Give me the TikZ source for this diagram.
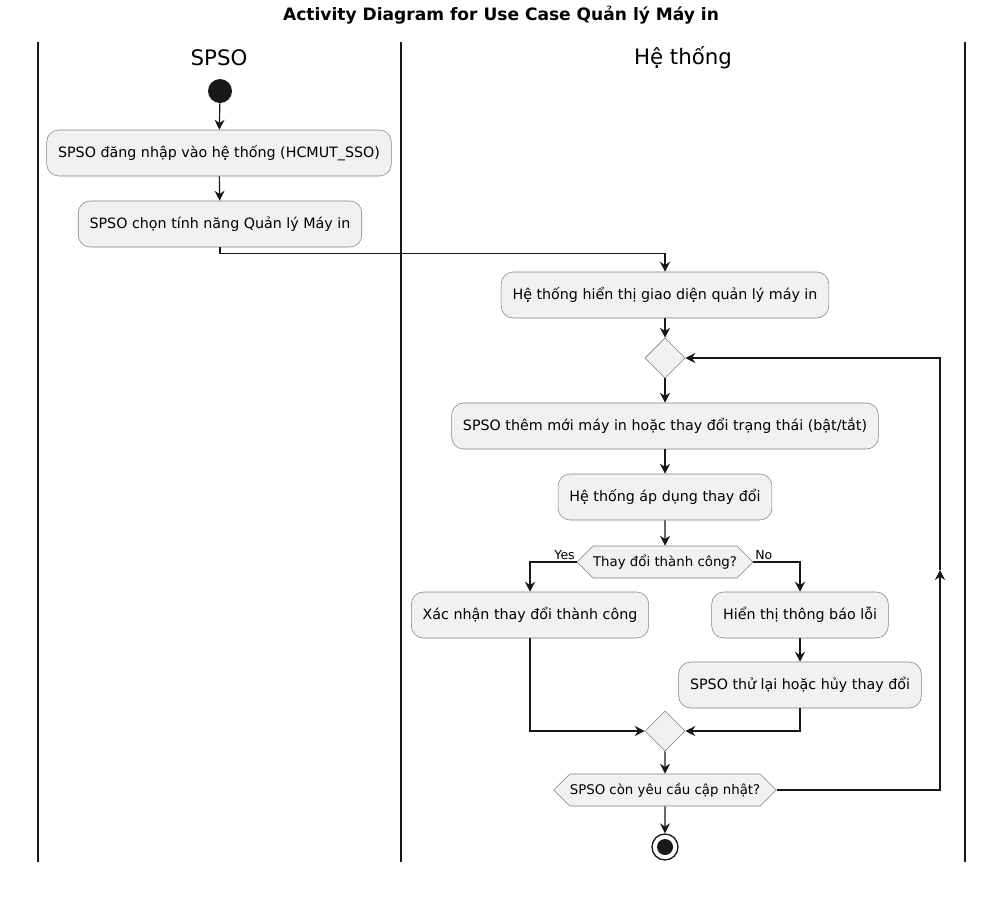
\documentclass[tikz,border=0pt]{standalone}
\usepackage{fontspec}
\setmainfont{DejaVu Sans}
\usetikzlibrary{arrows.meta,shapes.geometric,shapes.symbols}
\definecolor{actfill}{HTML}{F1F1F1}
\definecolor{actline}{HTML}{181818}
\tikzset{
  action/.style = {draw=black!50, fill=actfill, rounded corners=9pt,
    minimum height=34.5pt, inner xsep=8.5pt,
    font=\fontsize{10.7}{12}\selectfont},
  choice/.style = {signal, signal to=west and east, draw=black!50, fill=actfill,
    minimum height=24pt, inner xsep=0pt, font=\fontsize{10}{12}\selectfont},
  merge/.style = {diamond, draw=black!50, fill=actfill, minimum size=30pt, inner sep=0pt},
  flow/.style = {draw=actline, line width=0.9pt,
    -{Stealth[length=7.5pt,width=7.5pt,inset=2.5pt]}},
  guard/.style = {font=\fontsize{9.4}{11}\selectfont, inner sep=1pt},
  lane/.style = {draw=actline, line width=1.2pt},
  lanetitle/.style = {font=\fontsize{16}{19}\selectfont}
}

\begin{document}
\begin{tikzpicture}[x=0.75pt,y=-0.75pt]
  \useasboundingbox (0,0) rectangle (1000,900);
  \node[font=\fontsize{12.8}{15}\selectfont\bfseries] (title) at (501,15)
    {Activity Diagram for Use Case Quản lý Máy in};
  % swimlanes
  \foreach \X in {38,401,965} {
    \draw[lane] (\X,42) -- (\X,862);
  }
  \node[lanetitle] (laneA) at (219,58) {SPSO};
  \node[lanetitle] (laneB) at (683,58) {Hệ thống};

  \node[circle, fill=actline, minimum size=18pt, inner sep=0pt] (start) at (220,91) {};
  \node[action] (login) at (219,153) {SPSO đăng nhập vào hệ thống (HCMUT\_SSO)};
  \node[action] (choose) at (220,224) {SPSO chọn tính năng Quản lý Máy in};
  \node[action] (show) at (665,295) {Hệ thống hiển thị giao diện quản lý máy in};
  \node[merge] (merge1) at (665,358) {};
  \node[action] (add) at (665,426) {SPSO thêm mới máy in hoặc thay đổi trạng thái (bật/tắt)};
  \node[action] (apply) at (665,497) {Hệ thống áp dụng thay đổi};
  \node[choice] (check) at (665,562) {Thay đổi thành công?};
  \node[action] (confirm) at (530,615) {Xác nhận thay đổi thành công};
  \node[action] (error) at (800,615) {Hiển thị thông báo lỗi};
  \node[action] (retry) at (800,685) {SPSO thử lại hoặc hủy thay đổi};
  \node[merge] (merge2) at (665,731) {};
  \node[choice] (more) at (665,790) {SPSO còn yêu cầu cập nhật?};
  \node[circle, draw=actline, line width=1pt, fill=white, minimum size=19.5pt,
    inner sep=0pt] (stop) at (665,847) {};
  \fill[actline] (stop) circle (6pt);

  \draw[flow] (start) -- (login);
  \draw[flow] (login) -- (choose);
  \draw[flow] (choose.south) -- ++(0,6) -| (show.north);
  \draw[flow] (show) -- (merge1);
  \draw[flow] (merge1) -- (add);
  \draw[flow] (add) -- (apply);
  \draw[flow] (apply) -- (check);
  \draw[flow] (check.west) node[guard, above left] {Yes} -| (confirm.north);
  \draw[flow] (check.east) node[guard, above right] {No} -| (error.north);
  \draw[flow] (error) -- (retry);
  \draw[flow] (confirm.south) |- (merge2.west);
  \draw[flow] (retry.south) |- (merge2.east);
  \draw[flow] (merge2) -- (more);
  \draw[flow] (more) -- (stop);
  \coordinate (loopup) at (940,570);
  \draw[flow] (more.east) -| (loopup);
  \draw[flow] (loopup) |- (merge1.east);
\end{tikzpicture}
\end{document}
